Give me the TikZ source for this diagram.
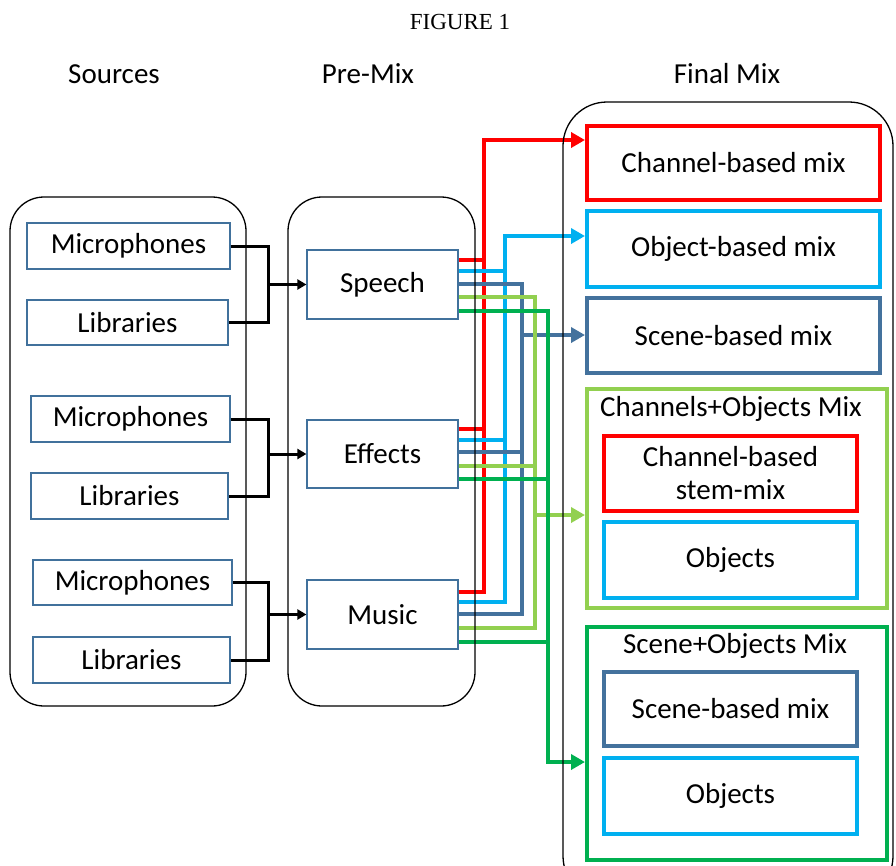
\documentclass[tikz,border=0pt]{standalone}
\usepackage{fontspec}
\setmainfont{Liberation Serif}
\setsansfont{Carlito}
\usetikzlibrary{arrows.meta}
\definecolor{cred}{HTML}{FF0000}
\definecolor{ccyan}{HTML}{00B0F0}
\definecolor{cbg}{HTML}{44729D}
\definecolor{clg}{HTML}{92D050}
\definecolor{cgr}{HTML}{00B050}
\definecolor{cout}{HTML}{41719C}
\begin{document}
\begin{tikzpicture}[x=1pt,y=-1pt,
 txt/.style={font=\fontsize{29}{33}\selectfont\sffamily},
 srcbox/.style={draw=cout, line width=1.2pt, inner sep=0pt, txt},
 premix/.style={draw=cout, line width=1.2pt, inner sep=0pt, minimum width=151pt, txt},
 cont/.style={draw=black, line width=1.3pt, rounded corners=34pt, inner sep=0pt},
 fbox/.style={line width=4pt, inner sep=0pt, minimum width=293pt, txt, align=center},
 ibox/.style={line width=4pt, inner sep=0pt, minimum width=253pt, txt, align=center},
 blk/.style={line width=3pt, black},
 blkarr/.style={line width=3pt, black, -{Triangle[length=9pt,width=10pt]}},
 conn/.style={line width=3.5pt},
 carr/.style={line width=3.5pt, -{Triangle[length=14pt,width=15pt]}}
]
\useasboundingbox (0,0) rectangle (896,865);
% title and headings
\node[font=\fontsize{23}{26}\selectfont\rmfamily] (title) at (460,22) {FIGURE 1};
\node[txt] (hsrc) at (114,74) {Sources};
\node[txt] (hpre) at (368,74) {Pre-Mix};
\node[txt] (hfin) at (727,74) {Final Mix};
% sources
\node[srcbox, minimum width=203pt, minimum height=46pt] (mic1) at (128.5,246) {Microphones};
\node[srcbox, minimum width=201pt, minimum height=45pt] (lib1) at (127.5,322.5) {Libraries};
\node[srcbox, minimum width=199pt, minimum height=46pt] (mic2) at (130.5,419) {Microphones};
\node[srcbox, minimum width=197pt, minimum height=46pt] (lib2) at (129.5,496) {Libraries};
\node[srcbox, minimum width=199pt, minimum height=45pt] (mic3) at (132.5,582.5) {Microphones};
\node[srcbox, minimum width=197pt, minimum height=46pt] (lib3) at (131.5,660) {Libraries};
% pre-mix
\node[premix, minimum height=69pt] (speech) at (382.5,284.5) {Speech};
\node[premix, minimum height=68pt] (effects) at (382.5,454) {Effects};
\node[premix, minimum height=69pt] (music) at (382.5,614.5) {Music};
% final mix boxes
\node[fbox, draw=cred, minimum height=74pt] (chmix) at (733.5,163) {Channel-based mix};
\node[fbox, draw=ccyan, minimum height=76pt] (obmix) at (733.5,249) {Object-based mix};
\node[fbox, draw=cbg, minimum height=75pt] (scmix) at (733.5,335.5) {Scene-based mix};
\node[fbox, draw=clg, minimum width=300pt, minimum height=219pt] (comix) at (737,498.5) {};
\node[txt] (cotitle) at (731,409) {Channels+Objects Mix};
\node[ibox, draw=cred, minimum height=75pt] (cstem) at (730.5,473.5) {Channel-based\\stem-mix};
\node[ibox, draw=ccyan, minimum height=76pt] (cobj) at (730.5,560) {Objects};
\node[fbox, draw=cgr, minimum width=300pt, minimum height=233pt] (somix) at (737,743.5) {};
\node[txt] (sotitle) at (735,646) {Scene+Objects Mix};
\node[ibox, draw=cbg, minimum height=74pt] (sscene) at (730.5,709) {Scene-based mix};
\node[ibox, draw=ccyan, minimum height=76pt] (sobj) at (730.5,796) {Objects};
% black brackets
\coordinate (j1) at (268,284.5);
\coordinate (j2) at (268,454);
\coordinate (j3) at (268,614.5);
\draw[blk] (mic1.east) -| (j1 |- lib1.east) -- (lib1.east);
\draw[blkarr] (j1) -- (speech.west);
\draw[blk] (mic2.east) -| (j2 |- lib2.east) -- (lib2.east);
\draw[blkarr] (j2) -- (effects.west);
\draw[blk] (mic3.east) -| (j3 |- lib3.east) -- (lib3.east);
\draw[blkarr] (j3) -- (music.west);
% red
\draw[carr, cred] (music.east |- 0,592) -| (484,140) -- (chmix.west |- 0,140);
\draw[conn, cred] (speech.east |- 0,260) -- (484,260);
\draw[conn, cred] (effects.east |- 0,429) -- (484,429);
% cyan
\draw[carr, ccyan] (music.east |- 0,602) -| (505,236) -- (obmix.west |- 0,236);
\draw[conn, ccyan] (speech.east |- 0,271) -- (505,271);
\draw[conn, ccyan] (effects.east |- 0,440) -- (505,440);
% blue-gray
\draw[conn, cbg] (speech.east |- 0,284) -| (522,614) -- (music.east |- 0,614);
\draw[conn, cbg] (effects.east |- 0,452) -- (522,452);
\draw[carr, cbg] (522,335) -- (scmix.west |- 0,335);
% light green
\draw[conn, clg] (speech.east |- 0,297) -| (535,628) -- (music.east |- 0,628);
\draw[conn, clg] (effects.east |- 0,466) -- (535,466);
\draw[carr, clg] (535,515) -- (comix.west |- 0,515);
% green
\draw[carr, cgr] (speech.east |- 0,311) -| (548,762) -- (somix.west |- 0,762);
\draw[conn, cgr] (effects.east |- 0,479) -- (548,479);
\draw[conn, cgr] (music.east |- 0,642) -- (548,642);
% containers
\node[cont, minimum width=236pt, minimum height=509pt] (srcc) at (128,451.5) {};
\node[cont, minimum width=187pt, minimum height=509pt] (prec) at (381.5,451.5) {};
\begin{scope}
\clip (0,0) rectangle (896,865);
\node[cont, rounded corners=44pt, minimum width=330pt, minimum height=798pt] (finc) at (728,501) {};
\end{scope}
\end{tikzpicture}
\end{document}
